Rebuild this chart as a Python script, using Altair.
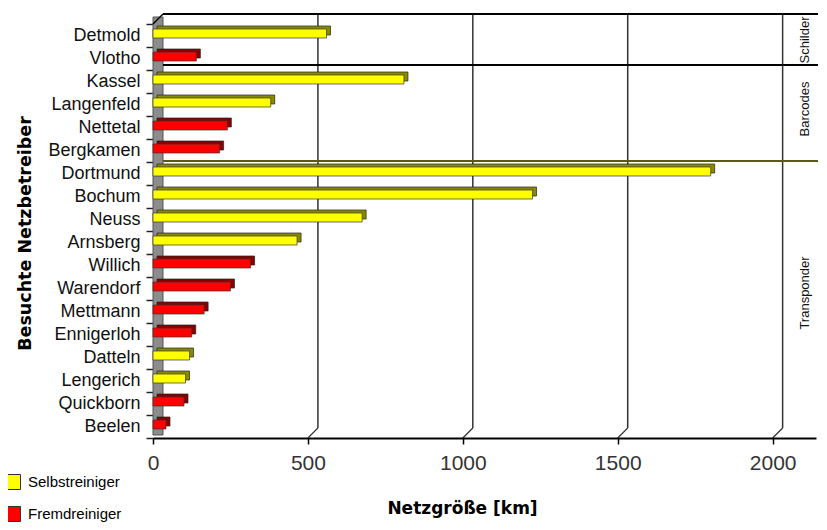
import altair as alt
import pandas as pd

# ---- data ----
names = ["Detmold", "Vlotho", "Kassel", "Langenfeld", "Nettetal", "Bergkamen",
         "Dortmund", "Bochum", "Neuss", "Arnsberg", "Willich", "Warendorf",
         "Mettmann", "Ennigerloh", "Datteln", "Lengerich", "Quickborn", "Beelen"]
values = [560, 140, 810, 380, 240, 215,
          1800, 1225, 675, 465, 315, 250,
          165, 125, 118, 105, 100, 42]
S, F = "Selbstreiniger", "Fremdreiniger"
types = [S, F, S, S, F, F,
         S, S, S, S, F, F,
         F, F, S, S, F, F]
type_order = [S, F]
type_colors = ["#FFFF00", "#FF0000"]

group_names = ["Schilder", "Barcodes", "Transponder"]
group_mid_anchor = ["Detmold", "Langenfeld", "Warendorf"]
group_starts = ["Kassel", "Dortmund"]

x_ticks = [0, 500, 1000, 1500, 2000]
grid_values = [500, 1000, 1500, 2000]

df = pd.DataFrame({"name": names, "value": values, "typ": types})
grid_df = pd.DataFrame({"g": grid_values})
grp_df = pd.DataFrame({"label": group_names, "anchor": group_mid_anchor})
one = pd.DataFrame({"d": [0]})

W, H = 663, 414
xscale = alt.Scale(domain=[0, 2140], nice=False, zero=True)
yscale = alt.Scale(domain=names, paddingInner=0, paddingOuter=0)

x_axis = alt.Axis(
    values=x_ticks, format="d", title="Netzgröße [km]", titleFont="DejaVu Sans",
    titleFontWeight="bold", titleFontSize=17, titleColor="#000",
    titleX=309, titleY=70, titleAlign="center", titleBaseline="middle",
    labelFont="Liberation Sans", labelFontSize=21, labelColor="#333",
    labelPadding=8, labelFlush=False, tickSize=6, tickColor="#000",
    tickWidth=1.5, domainColor="#000", domainWidth=2, grid=False, zindex=1)
y_axis = alt.Axis(
    title="Besuchte Netzbetreiber", titleFont="DejaVu Sans",
    titleFontWeight="bold", titleFontSize=17.5, titleColor="#000",
    titleAngle=270, titleX=-128, titleY=209, titleAlign="center",
    titleBaseline="middle", labelFont="Liberation Sans", labelFontSize=18,
    labelColor="#111", labelPadding=6, tickSize=7, tickColor="#222",
    tickWidth=1.5, tickBand="extent", domain=False, grid=False)

# 3D side wall on the left
wall = alt.Chart(one).mark_rect(color="#8c8c8c", stroke="#555", strokeWidth=1).encode(
    x=alt.value(0), x2=alt.value(10), y=alt.value(-7), y2=alt.value(411))

# top border and corner
top_border = alt.Chart(one).mark_rule(color="#000", strokeWidth=2).encode(
    x=alt.value(10), x2=alt.value(W + 2), y=alt.value(-10))
corner = alt.Chart(one).mark_rule(color="#000", strokeWidth=1.5).encode(
    x=alt.value(0), x2=alt.value(10), y=alt.value(0), y2=alt.value(-10))

# back-wall gridlines
grid = alt.Chart(grid_df).mark_rule(color="#333", strokeWidth=1.5, xOffset=10).encode(
    x=alt.X("g:Q", scale=xscale, axis=x_axis), y=alt.value(-10), y2=alt.value(404))
grid_floor = alt.Chart(grid_df).mark_rule(color="#333", strokeWidth=1.2, x2Offset=10).encode(
    x=alt.X("g:Q", scale=xscale, axis=x_axis), x2=alt.X2("g"),
    y=alt.value(414), y2=alt.value(404))

# group separator lines
sep1 = alt.Chart(pd.DataFrame({"start": group_starts[:1]})).mark_rule(
    color="#000", strokeWidth=2, yOffset=-5).encode(
    y=alt.Y("start:N", scale=yscale, axis=y_axis, bandPosition=0),
    x=alt.value(10), x2=alt.value(W + 2))
sep2 = alt.Chart(pd.DataFrame({"start": group_starts[1:]})).mark_rule(
    color="#5a5a10", strokeWidth=2, yOffset=-1).encode(
    y=alt.Y("start:N", scale=yscale, axis=y_axis, bandPosition=0),
    x=alt.value(10), x2=alt.value(W + 2))

# group labels
grp_text = alt.Chart(grp_df).mark_text(
    angle=270, fontSize=13, font="Liberation Sans", color="#111",
    align="center", baseline="middle", yOffset=-7).encode(
    y=alt.Y("anchor:N", scale=yscale, axis=y_axis, bandPosition=1),
    x=alt.value(652), text="label:N")

# bars: shaded depth + front face
shade = alt.Chart(df).mark_bar(
    size=9, xOffset=4, x2Offset=4, yOffset=-5, stroke="#222", strokeWidth=0.7).encode(
    x=alt.X("value:Q", scale=xscale, axis=x_axis),
    y=alt.Y("name:N", scale=yscale, axis=y_axis),
    color=alt.condition("datum.typ == 'Selbstreiniger'",
                        alt.value("#8a8a00"), alt.value("#8a0000")))

front = alt.Chart(df).mark_bar(
    size=9, yOffset=-2, stroke="#333", strokeWidth=0.7, opacity=1).encode(
    x=alt.X("value:Q", scale=xscale, axis=x_axis),
    y=alt.Y("name:N", scale=yscale, axis=y_axis),
    color=alt.Color("typ:N", scale=alt.Scale(domain=type_order, range=type_colors),
                    legend=alt.Legend(
                        title=None, orient="none", legendX=-148, legendY=450,
                        symbolType="square", symbolSize=225,
                        symbolStrokeColor="#333", symbolStrokeWidth=1,
                        symbolOpacity=1, labelFont="Liberation Sans",
                        labelFontSize=15, labelColor="#000", rowPadding=12,
                        labelOffset=7, padding=0)),
    tooltip=["name:N", "value:Q", "typ:N"])

chart = alt.layer(
    wall, grid, grid_floor, top_border, corner, sep1, sep2, grp_text, shade, front
).properties(
    width=W, height=H,
    padding={"left": 145, "top": 16, "right": 2, "bottom": 84},
    autosize=alt.AutoSizeParams(type="none"),
    background="white",
).configure_view(stroke=None)

chart.save("out.html", embed_options={"renderer": "svg", "actions": False})
